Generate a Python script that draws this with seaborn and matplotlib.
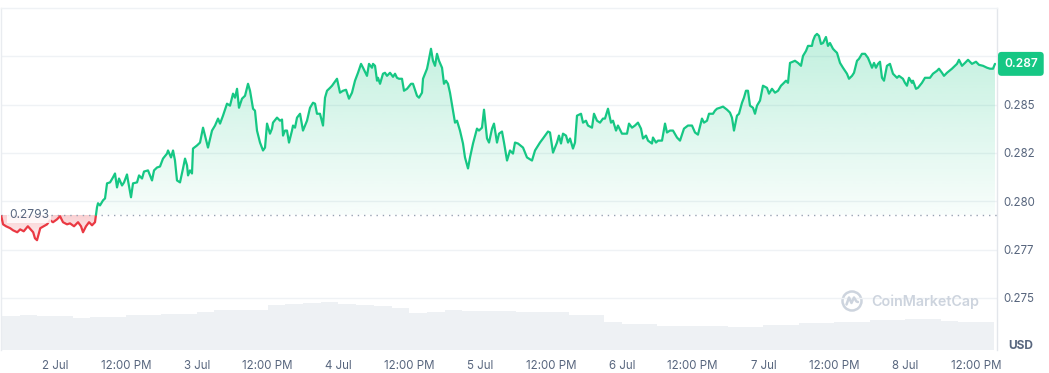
import numpy as np
import pandas as pd
import matplotlib
matplotlib.use("Agg")
import matplotlib.pyplot as plt
import matplotlib.dates as mdates
import matplotlib.transforms as mtransforms
from matplotlib.path import Path
from matplotlib.patches import PathPatch, Circle
from matplotlib.lines import Line2D
from matplotlib.colors import to_rgb
import seaborn as sns

sns.set_theme(style="white")
plt.rcParams['font.family'] = ['Inter', 'DejaVu Sans']

# ---------------- data ----------------
START = pd.Timestamp("2024-07-02 00:00")
BASE = 0.2793          # reference (open) price

hours = [
    -9.1, -8.8, -8.3, -7.6, -7.1, -6.4, -5.9, -5.3, -4.6, -3.7, -3.4, -3.05, -2.5, -1.35, -0.85, -0.34,
    0.34, 0.85, 1.35, 2.03, 2.54, 3.22, 3.90, 4.40, 4.74, 5.25, 5.76, 6.27, 6.77,
    7.11, 7.28, 7.62, 8.13, 8.47, 8.81, 9.32, 9.82, 10.16, 10.50, 10.84, 11.35, 11.69, 12.19, 12.36,
    12.87, 13.21, 13.89, 14.23, 14.74, 15.07, 15.75, 16.43, 16.77, 17.28, 17.78, 18.29, 18.97, 19.14,
    19.65, 19.99, 20.32, 20.66, 21.17, 21.68, 22.02, 22.36, 22.53, 22.86, 23.20, 23.37,
    24.05, 24.56, 25.07, 25.41, 25.91, 26.59, 27.10, 27.61, 27.95, 28.45, 29.13, 29.64, 30.15, 30.49,
    30.83, 31.16, 31.67, 32.18, 32.69, 33.03, 33.54, 33.87, 34.21, 34.72, 35.23, 35.57, 35.91, 36.41,
    36.75, 36.92, 37.60, 38.11, 38.45, 38.62, 38.96, 39.29, 39.63, 40.14, 40.31, 40.65, 40.99, 41.50,
    42.00, 42.68, 43.19, 43.70, 44.04, 44.37, 44.88, 45.39, 45.73, 46.07, 46.58, 46.92, 47.76,
    48.27, 48.78, 49.29, 49.79, 50.30, 50.81, 51.32, 51.83, 52.17, 52.84, 53.18, 53.69, 53.86, 54.20,
    54.54, 54.71, 55.05, 55.55, 55.89, 56.23, 56.74, 57.25, 57.59, 57.92, 58.26, 58.77, 59.11, 59.62,
    60.30, 60.63, 61.31, 61.65, 62.16, 62.33, 63.01, 63.18, 63.68, 64.02, 64.36, 64.70, 65.04, 65.55,
    65.88, 66.22, 66.56, 66.90, 67.41, 67.75, 68.09, 68.59, 69.10, 69.44, 69.95, 70.29, 70.80, 71.47,
    71.81, 72.32, 72.66, 73.17, 73.51, 74.02, 74.35, 74.86, 75.20, 75.71, 76.05, 76.56, 77.06, 77.57,
    77.91, 78.42, 79.27, 79.94, 80.79, 81.30, 82.14, 82.65, 83.50, 83.84, 84.35, 85.02, 85.36, 85.70,
    86.04, 86.55, 86.89, 87.23, 87.73, 88.07, 88.41, 89.09, 89.43, 89.93, 90.27, 90.95, 91.29, 91.80,
    92.31, 92.81, 93.15, 93.66, 94.17, 94.51, 95.02, 95.35, 96.03, 96.88, 97.22, 97.73, 98.23, 98.74,
    99.25, 99.59, 100.10, 100.44, 101.11, 101.28, 101.79, 102.13, 102.81, 103.32, 103.65, 104.16,
    104.67, 105.35, 105.86, 106.53, 107.21, 107.89, 108.40, 108.90, 109.58, 109.92, 110.43, 110.77,
    111.45, 111.78, 112.12, 112.63, 113.14, 113.82, 114.32, 114.66, 115.00, 115.51, 115.85, 116.36,
    116.69, 117.03, 117.37, 117.71, 118.22, 118.56, 118.90, 119.41, 119.91, 120.59, 120.93, 121.44,
    121.95, 122.46, 122.96, 123.30, 123.81, 124.15, 124.49, 125.33, 125.84, 126.35, 126.69, 127.20,
    127.54, 128.21, 128.38, 128.72, 129.06, 129.40, 129.74, 130.08, 130.58, 130.92, 131.26, 131.77,
    132.11, 132.45, 132.96, 133.46, 134.14, 134.48, 134.99, 135.33, 135.84, 136.17, 136.68, 137.19,
    137.70, 138.38, 138.72, 139.05, 139.39, 139.73, 140.07, 140.41, 140.91, 141.42, 141.93, 142.61,
    142.95, 143.62, 143.96, 144.30, 144.64, 145.15, 145.32, 145.83, 146.16, 146.84, 147.35, 148.20,
    148.70, 149.38, 149.72, 150.23, 150.57, 151.08, 151.92, 152.77, 153.11, 153.62, 154.13, 154.64,
    155.31, 155.99, 156.50, 157.18, 157.86, 158.36, 158.87, 159.21,
]

price = [
    0.27923, 0.27881, 0.27871, 0.27861, 0.27850, 0.27840, 0.27855, 0.27845, 0.27871, 0.27840, 0.27809, 0.27799, 0.27861, 0.27881, 0.27902, 0.27892,
    0.27907, 0.27923, 0.27892, 0.27881, 0.27886, 0.27871, 0.27892, 0.27871, 0.27840, 0.27871, 0.27892, 0.27876, 0.27892,
    0.27969, 0.27990, 0.27979, 0.28005, 0.28015, 0.28093, 0.28098, 0.28124, 0.28144, 0.28072, 0.28118, 0.28082, 0.28098, 0.28139, 0.28108,
    0.28021, 0.28093, 0.28098, 0.28134, 0.28118, 0.28154, 0.28160, 0.28108, 0.28160, 0.28175, 0.28180, 0.28221, 0.28247, 0.28263,
    0.28227, 0.28263, 0.28211, 0.28108, 0.28098, 0.28170, 0.28221, 0.28186, 0.28134, 0.28160, 0.28144, 0.28273,
    0.28289, 0.28304, 0.28381, 0.28340, 0.28278, 0.28366, 0.28392, 0.28428, 0.28402, 0.28443, 0.28505, 0.28495, 0.28557, 0.28536,
    0.28582, 0.28484, 0.28531, 0.28546, 0.28608, 0.28572, 0.28479, 0.28469, 0.28366, 0.28304, 0.28263, 0.28278, 0.28402, 0.28350,
    0.28376, 0.28407, 0.28433, 0.28417, 0.28423, 0.28340, 0.28366, 0.28366, 0.28304, 0.28366, 0.28392, 0.28381, 0.28433, 0.28453,
    0.28366, 0.28417, 0.28484, 0.28510, 0.28505, 0.28453, 0.28453, 0.28392, 0.28536, 0.28572, 0.28587, 0.28598, 0.28634,
    0.28562, 0.28572, 0.28577, 0.28531, 0.28562, 0.28624, 0.28665, 0.28711, 0.28691, 0.28649, 0.28711, 0.28691, 0.28711, 0.28701,
    0.28624, 0.28639, 0.28608, 0.28660, 0.28665, 0.28649, 0.28665, 0.28644, 0.28660, 0.28639, 0.28634, 0.28634, 0.28572, 0.28582,
    0.28608, 0.28608, 0.28546, 0.28536, 0.28562, 0.28634, 0.28686, 0.28711, 0.28789, 0.28727, 0.28701, 0.28763, 0.28727, 0.28691,
    0.28608, 0.28624, 0.28608, 0.28562, 0.28469, 0.28407, 0.28417, 0.28366, 0.28299, 0.28227, 0.28170, 0.28227, 0.28299, 0.28376,
    0.28366, 0.28381, 0.28474, 0.28325, 0.28304, 0.28376, 0.28402, 0.28304, 0.28350, 0.28361, 0.28304, 0.28211, 0.28263, 0.28247,
    0.28304, 0.28299, 0.28278, 0.28227, 0.28211, 0.28263, 0.28304, 0.28325, 0.28361, 0.28356, 0.28252, 0.28304, 0.28340, 0.28299,
    0.28350, 0.28340, 0.28304, 0.28325, 0.28273, 0.28304, 0.28443, 0.28453, 0.28407, 0.28417, 0.28392, 0.28381, 0.28453, 0.28417,
    0.28407, 0.28428, 0.28428, 0.28479, 0.28407, 0.28417, 0.28366, 0.28392, 0.28350, 0.28350, 0.28402, 0.28381, 0.28392, 0.28407,
    0.28376, 0.28325, 0.28340, 0.28314, 0.28299, 0.28330, 0.28304, 0.28314, 0.28314, 0.28402, 0.28356, 0.28366,
    0.28366, 0.28330, 0.28314, 0.28376, 0.28392, 0.28392, 0.28356, 0.28345, 0.28428, 0.28407, 0.28417, 0.28453,
    0.28453, 0.28469, 0.28479, 0.28484, 0.28490, 0.28474, 0.28459, 0.28433, 0.28366, 0.28443, 0.28453, 0.28510,
    0.28536, 0.28572, 0.28572, 0.28495, 0.28484, 0.28453, 0.28495, 0.28521, 0.28598, 0.28587, 0.28557, 0.28582,
    0.28562, 0.28572, 0.28598, 0.28608, 0.28624, 0.28613, 0.28716, 0.28727, 0.28716, 0.28701, 0.28752, 0.28778,
    0.28804, 0.28804, 0.28830, 0.28856, 0.28866, 0.28856, 0.28814, 0.28819, 0.28850, 0.28804, 0.28819, 0.28789,
    0.28778, 0.28768, 0.28716, 0.28691, 0.28660, 0.28634, 0.28649, 0.28665, 0.28727, 0.28737, 0.28763, 0.28763,
    0.28742, 0.28691, 0.28716, 0.28691, 0.28711, 0.28722, 0.28639, 0.28624, 0.28701, 0.28711, 0.28660, 0.28639,
    0.28649, 0.28634, 0.28613, 0.28598, 0.28639, 0.28613, 0.28624, 0.28582, 0.28587, 0.28613, 0.28639, 0.28639,
    0.28660, 0.28675, 0.28686, 0.28665, 0.28649, 0.28665, 0.28686, 0.28711, 0.28732, 0.28701, 0.28716, 0.28732,
    0.28711, 0.28722, 0.28706, 0.28701, 0.28691, 0.28686, 0.28686, 0.28711,
]

# volume bars: start hour of each 3-hour bucket and relative volume
vol_hours = [-9, -6, -3, 0, 3, 6, 9, 12, 15, 18, 21, 24, 27, 30, 33, 36, 39, 42, 45, 48,
             51, 54, 57, 60, 63, 66, 69, 72, 75, 78, 81, 84, 87, 90, 93, 96, 99, 102, 105, 108,
             111, 114, 117, 120, 123, 126, 129, 132, 135, 138, 141, 144, 147, 150, 153, 156]
volume = [34, 35, 34, 34, 32, 33, 33, 35, 35, 36, 36, 38, 40, 40, 40, 45, 46, 47, 48, 46,
          45, 44, 42, 37, 38, 40, 39, 39, 39, 38, 38, 38, 35, 35, 28, 26, 26, 24, 24, 24,
          24, 23, 23, 25, 25, 27, 27, 28, 28, 30, 30, 31, 31, 29, 28, 28]

y_ticks = [0.275, 0.2775, 0.28, 0.2825, 0.285, 0.2875]
y_labels = ["0.275", "0.277", "0.280", "0.282", "0.285", ""]
x_tick_hours = [0, 12, 24, 36, 48, 60, 72, 84, 96, 108, 120, 132, 144, 156]
x_labels = ["2 Jul", "12:00 PM", "3 Jul", "12:00 PM", "4 Jul", "12:00 PM", "5 Jul",
            "12:00 PM", "6 Jul", "12:00 PM", "7 Jul", "12:00 PM", "8 Jul", "12:00 PM"]

GREEN = "#16c784"
RED = "#ea3943"
TXT = "#58667e"
GRID = "#eff2f5"

# ---------------- split into above / below base segments ----------------
t = np.array(hours, dtype=float)
p = np.array(price, dtype=float)
rows = []
seg = 0
prev_up = p[0] >= BASE
for i in range(len(p)):
    up = p[i] >= BASE
    if i > 0 and up != prev_up:
        tc = t[i - 1] + (BASE - p[i - 1]) * (t[i] - t[i - 1]) / (p[i] - p[i - 1])
        rows.append((tc, BASE, "up" if prev_up else "down", seg))
        seg += 1
        rows.append((tc, BASE, "up" if up else "down", seg))
    rows.append((t[i], p[i], "up" if up else "down", seg))
    prev_up = up
df = pd.DataFrame(rows, columns=["h", "price", "side", "seg"])
df["time"] = START + pd.to_timedelta(df["h"], unit="h")

# ---------------- figure ----------------
W, H = 1049, 373
fig = plt.figure(figsize=(W / 100, H / 100), dpi=100)
ax_left, ax_right, ax_top, ax_bot = 1, 997, 8, 350
ax = fig.add_axes([ax_left / W, 1 - ax_bot / H, (ax_right - ax_left) / W, (ax_bot - ax_top) / H])

sns.lineplot(data=df, x="time", y="price", hue="side", units="seg", estimator=None,
             palette={"up": GREEN, "down": RED}, linewidth=1.6, legend=False, ax=ax, zorder=5)

x0 = START + pd.Timedelta(hours=-9.15)
x1 = START + pd.Timedelta(hours=159.55)
xn0, xn1 = mdates.date2num(x0.to_pydatetime()), mdates.date2num(x1.to_pydatetime())
YLO, YHI = 0.27231, 0.29


def gradient_fill(side, y_lo, y_hi, a_lo, a_hi, color):
    paths = []
    for _, g in df[df["side"] == side].groupby("seg"):
        coll = ax.fill_between(g["time"], g["price"], BASE, facecolor="none", edgecolor="none", linewidth=0)
        paths += coll.get_paths()
        coll.remove()
    if not paths:
        return
    patch = PathPatch(Path.make_compound_path(*paths), transform=ax.transData,
                      facecolor="none", edgecolor="none")
    ax.add_patch(patch)
    rgba = np.zeros((256, 1, 4))
    rgba[:, :, :3] = to_rgb(color)
    rgba[:, 0, 3] = np.linspace(a_lo, a_hi, 256)
    im = ax.imshow(rgba, aspect="auto", origin="lower", extent=[xn0, xn1, y_lo, y_hi],
                   zorder=2, interpolation="bilinear")
    im.set_clip_path(patch)


gradient_fill("up", BASE, YHI, 0.03, 0.30, GREEN)
gradient_fill("down", 0.2778, BASE, 0.05, 0.24, RED)

# baseline
ax.axhline(BASE, color="#98a2b3", linestyle=(0, (1, 3.5)), linewidth=1.0, zorder=4)

# volume on twin axis underneath
ax_v = ax.twinx()
vt = mdates.date2num([(START + pd.Timedelta(hours=h)).to_pydatetime() for h in vol_hours])
ax_v.bar(vt, volume, width=3 / 24, align="edge", color="#eef1f4", edgecolor="none", linewidth=0)
ax_v.set_ylim(0, ax_bot - ax_top)
ax_v.set_yticks([])
for s in ax_v.spines.values():
    s.set_visible(False)
ax.set_zorder(ax_v.get_zorder() + 1)
ax.patch.set_visible(False)

# axes styling
ax.set_xlim(xn0, xn1)
ax.set_ylim(YLO, YHI)
ax.yaxis.tick_right()
ax.set_yticks(y_ticks)
ax.set_yticklabels(y_labels)
ax.set_xticks(mdates.date2num([(START + pd.Timedelta(hours=h)).to_pydatetime() for h in x_tick_hours]))
ax.set_xticklabels(x_labels)
ax.tick_params(axis="y", length=0, pad=4.3, labelsize=8.3, labelcolor=TXT)
ax.tick_params(axis="x", length=0, pad=7, labelsize=8.3, labelcolor=TXT)
ax.set_xlabel("")
ax.set_ylabel("")
ax.grid(axis="y", color=GRID, linewidth=1.0)
ax.grid(axis="x", visible=False)
ax.set_axisbelow(True)
ax.spines["bottom"].set_visible(False)
ax.spines["top"].set_color(GRID)
ax.spines["left"].set_color("#e9ecf0")
ax.spines["right"].set_color("#e3e6eb")
for s in ("top", "left", "right"):
    ax.spines[s].set_linewidth(1.0)

blend = mtransforms.blended_transform_factory(ax.transAxes, ax.transData)

# base price label
ax.text(8 / 996, BASE, f"{BASE:.4f}", transform=blend, ha="left", va="center",
        fontsize=8.6, color=TXT, zorder=7,
        bbox=dict(boxstyle="square,pad=0.15", facecolor="white", edgecolor="none", alpha=0.82))

# current price badge
ax.text(1.0 + 7 / 996, price[-1], f"{price[-1]:.3f}", transform=blend, ha="left", va="center",
        fontsize=8.6, color="white", fontweight="semibold", zorder=10, clip_on=False,
        bbox=dict(boxstyle="round,pad=0.5,rounding_size=0.3", facecolor=GREEN, edgecolor="none"))

# currency label
fig.text(1021 / W, 1 - 346 / H, "USD", ha="center", va="center", fontsize=8.6,
         fontweight="bold", color=TXT)

# watermark
WM = "#cdd4de"
fig.text(871 / W, 1 - 302 / H, "CoinMarketCap", ha="left", va="center", fontsize=10.3,
         fontweight="semibold", color=WM)
cx, cy = 852 / 100, (H - 301) / 100
fig.add_artist(Circle((cx, cy), 0.095, transform=fig.dpi_scale_trans, facecolor="none",
                      edgecolor=WM, linewidth=1.8))
fig.add_artist(Line2D([cx - 0.055, cx - 0.03, cx - 0.005, cx + 0.02, cx + 0.045, cx + 0.06],
                      [cy - 0.035, cy + 0.035, cy - 0.02, cy + 0.035, cy - 0.005, cy - 0.01],
                      transform=fig.dpi_scale_trans, color=WM, linewidth=1.8,
                      solid_joinstyle="round", solid_capstyle="round"))

fig.savefig("out.png", dpi=100)
